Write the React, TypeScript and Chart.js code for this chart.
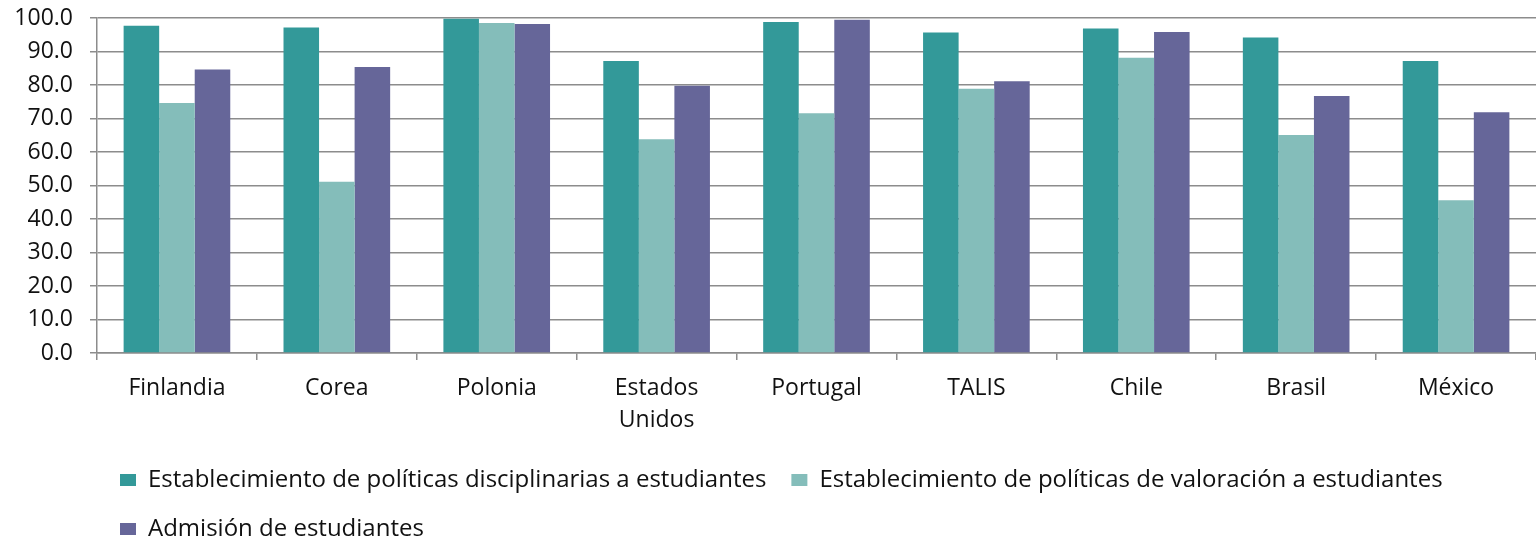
import React, { useEffect, useRef } from "react";
import { Chart, registerables } from "chart.js";

Chart.register(...registerables);

const categories: (string | string[])[] = [
  "Finlandia",
  "Corea",
  "Polonia",
  ["Estados", "Unidos"],
  "Portugal",
  "TALIS",
  "Chile",
  "Brasil",
  "México",
];

const seriesNames = [
  "Establecimiento de políticas disciplinarias a estudiantes",
  "Establecimiento de políticas de valoración a estudiantes",
  "Admisión de estudiantes",
];

const disciplinarias = [97.7, 97.2, 99.8, 87.2, 98.8, 95.7, 96.9, 94.2, 87.2];
const valoracion = [74.6, 51.1, 98.5, 63.8, 71.6, 78.9, 88.1, 65.1, 45.6];
const admision = [84.6, 85.4, 98.2, 79.8, 99.5, 81.1, 95.8, 76.7, 71.9];

const colors = ["#339999", "#84bdba", "#666699"];

const FONT = "'Open Sans', sans-serif";

const legendShift = {
  id: "legendShift",
  beforeDraw(chart: any) {
    if (chart.legend) {
      const w = chart.legend.right - chart.legend.left;
      chart.legend.left = 95;
      chart.legend.right = 95 + w;
    }
  },
};

export default function App() {
  const ref = useRef<HTMLCanvasElement | null>(null);

  useEffect(() => {
    if (!ref.current) return;
    const chart = new Chart(ref.current, {
      type: "bar",
      data: {
        labels: categories,
        datasets: [disciplinarias, valoracion, admision].map((d, i) => ({
          label: seriesNames[i],
          data: d,
          backgroundColor: colors[i],
          borderWidth: 0,
          categoryPercentage: 0.667,
          barPercentage: 1.0,
        })),
      },
      plugins: [legendShift],
      options: {
        animation: false,
        responsive: false,
        maintainAspectRatio: false,
        layout: { padding: { left: 0, right: 0, top: 18, bottom: -14 } },
        plugins: {
          tooltip: { enabled: false },
          legend: {
            position: "bottom",
            align: "start",
            labels: {
              boxWidth: 16,
              boxHeight: 12,
              padding: 25,
              color: "#111",
              font: { family: FONT, size: 24 },
            },
          },
        },
        scales: {
          x: {
            afterFit: (s: any) => {
              s.height = 90;
              s.paddingLeft = 0;
              s.paddingRight = 0;
            },
            grid: {
              offset: true,
              drawOnChartArea: false,
              drawTicks: true,
              tickLength: 7,
              color: "#8c8c8c",
              lineWidth: 1.5,
            },
            border: { display: true, color: "#8c8c8c", width: 1.5 },
            ticks: {
              color: "#111",
              padding: 12,
              font: { family: FONT, size: 23, lineHeight: 1.4 },
              maxRotation: 0,
              autoSkip: false,
            },
          },
          y: {
            min: 0,
            max: 100,
            afterFit: (s: any) => {
              s.width = 97;
              s.paddingTop = 0;
              s.paddingBottom = 0;
            },
            grid: {
              color: "#8c8c8c",
              lineWidth: 1.5,
              drawTicks: true,
              tickLength: 7,
            },
            border: { display: true, color: "#8c8c8c", width: 1.5 },
            ticks: {
              stepSize: 10,
              padding: 17,
              color: "#111",
              font: { family: FONT, size: 23 },
              callback: (v: any) => Number(v).toFixed(1),
            },
          },
        },
      },
    });
    return () => chart.destroy();
  }, []);

  return (
    <div style={{ position: "absolute", left: 0, top: 0, width: 1536, height: 537, background: "#fff" }}>
      <canvas ref={ref} width={1536} height={537} style={{ width: 1536, height: 537 }} />
    </div>
  );
}
